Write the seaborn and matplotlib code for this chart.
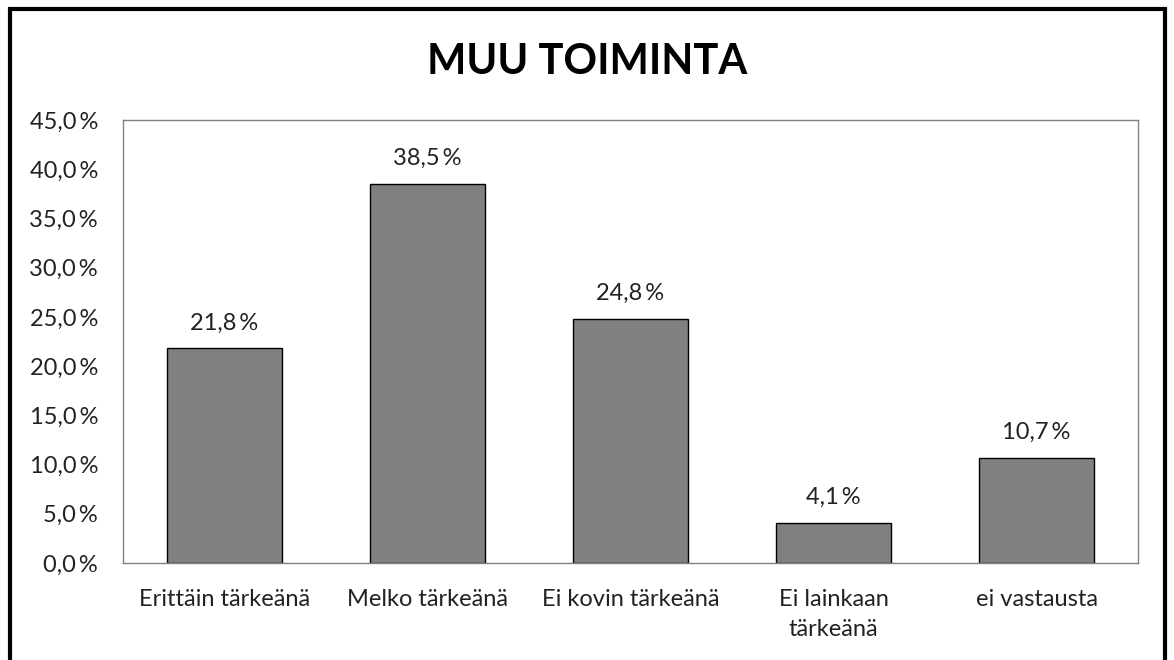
import matplotlib
matplotlib.use("Agg")
import matplotlib.pyplot as plt
import seaborn as sns
import pandas as pd
from matplotlib.patches import Rectangle
from matplotlib.ticker import FuncFormatter

categories = ["Erittäin tärkeänä", "Melko tärkeänä", "Ei kovin tärkeänä",
              "Ei lainkaan\ntärkeänä", "ei vastausta"]
values = [21.8, 38.5, 24.8, 4.1, 10.7]
y_ticks = [0, 5, 10, 15, 20, 25, 30, 35, 40, 45]

sns.set_style("white")
plt.rcParams['font.family'] = ['Lato', 'DejaVu Sans']


def pct(v):
    return f"{v:.1f}\u2009%".replace('.', ',')


df = pd.DataFrame({'kategoria': categories, 'osuus': values})

fig = plt.figure(figsize=(11.74, 6.6), dpi=100)
ax = fig.add_axes([123 / 1174, 1 - 563 / 660, (1138 - 123) / 1174, (563 - 120) / 660])

sns.barplot(data=df, x='kategoria', y='osuus', color='#808080', saturation=1,
            width=0.57, edgecolor='black', linewidth=1, ax=ax)

for i, v in enumerate(values):
    ax.text(i, v + 1.5, pct(v), ha='center', va='bottom',
            fontsize=17, color='#222222')

ax.set_ylim(0, 45)
ax.set_yticks(y_ticks)
ax.yaxis.set_major_formatter(FuncFormatter(lambda y, _: pct(y)))
ax.tick_params(axis='both', length=0, labelsize=17, colors='#222222')
ax.tick_params(axis='y', pad=18)
ax.tick_params(axis='x', pad=19)
for lbl in ax.get_xticklabels():
    lbl.set_linespacing(1.5)
ax.set_xlabel('')
ax.set_ylabel('')
for s in ax.spines.values():
    s.set_color('#808080')
    s.set_linewidth(1)

fig.text(0.5, 1 - 62 / 660, "MUU TOIMINTA", ha='center', va='center',
         fontsize=30, fontweight='bold', color='black')

# ulkoreunus
fig.patches.append(Rectangle((10 / 1174, -0.05), (1165 - 10) / 1174, 1.05 - 9 / 660,
                             transform=fig.transFigure, fill=False,
                             edgecolor='black', linewidth=3))

fig.savefig("out.png", dpi=100)
